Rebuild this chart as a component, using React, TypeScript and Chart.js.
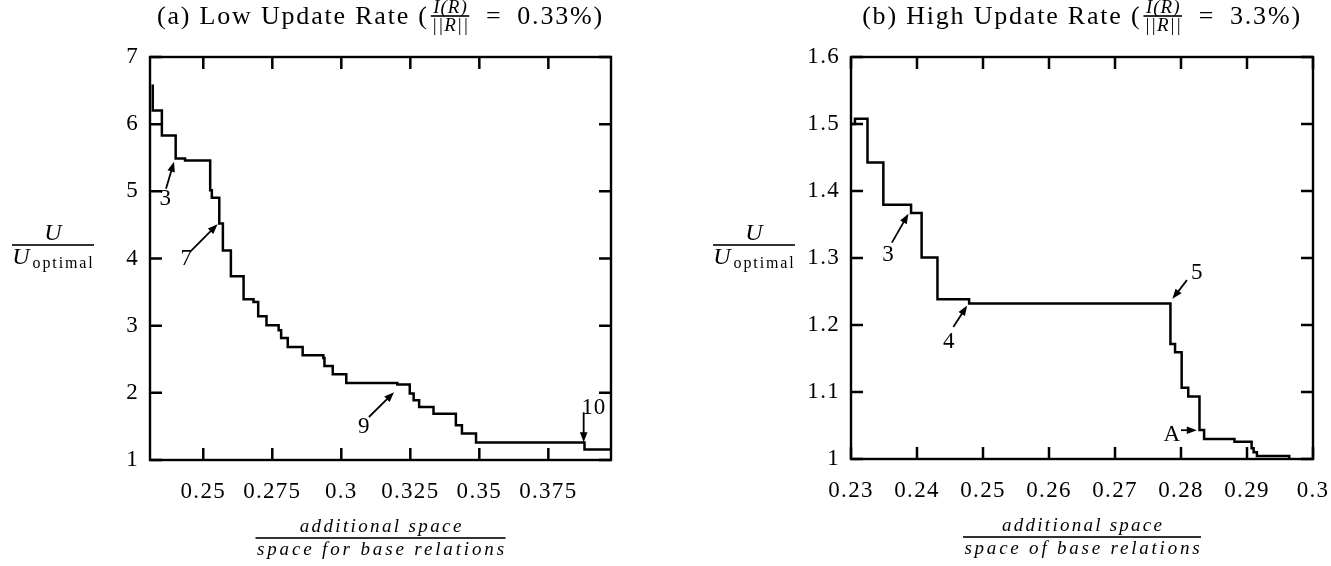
import React, { useEffect, useRef } from "react";
import { Chart, registerables } from "chart.js";
Chart.register(...registerables);

// ---------- (a) Low update rate ----------
const lowX = [0.2317, 0.2317, 0.235, 0.24, 0.2434, 0.2525, 0.2531, 0.2558, 0.2571, 0.26, 0.2646, 0.2682, 0.2699, 0.2729, 0.2773, 0.2782, 0.2806, 0.286, 0.2935, 0.2939, 0.2969, 0.3018, 0.3203, 0.3248, 0.3262, 0.3282, 0.3334, 0.3415, 0.3437, 0.3488, 0.3881, 0.3976];
const lowY = [6.59, 6.205, 5.833, 5.487, 5.46, 5.015, 4.906, 4.52, 4.12, 3.735, 3.393, 3.353, 3.14, 3.006, 2.93, 2.817, 2.683, 2.56, 2.52, 2.4, 2.277, 2.148, 2.123, 1.99, 1.89, 1.79, 1.69, 1.518, 1.394, 1.26, 1.156, 1.156];
const lowXTicks = [0.25, 0.275, 0.3, 0.325, 0.35, 0.375];
const lowXTickLabels = ["0.25", "0.275", "0.3", "0.325", "0.35", "0.375"];
const lowYTicks = [1, 2, 3, 4, 5, 6, 7];
const lowYTickLabels = ["1", "2", "3", "4", "5", "6", "7"];
const lowNoteLabels = ["3", "7", "9", "10"];
const lowNoteLabelX = [0.2362, 0.2438, 0.3081, 0.3913];
const lowNoteLabelY = [4.91, 4.02, 1.52, 1.81];
const lowArrowFrom = [[0.2365, 5.04], [0.2452, 4.1], [0.31, 1.64], [0.3878, 1.71]];
const lowArrowTo = [[0.2394, 5.44], [0.2552, 4.51], [0.3191, 2.01], [0.3878, 1.265]];

// ---------- (b) High update rate ----------
const highX = [0.23, 0.2306, 0.2325, 0.2349, 0.2391, 0.2407, 0.2431, 0.2479, 0.2784, 0.2791, 0.2801, 0.2811, 0.2828, 0.2835, 0.2881, 0.2907, 0.291, 0.2915, 0.2964];
const highY = [1.5, 1.508, 1.4427, 1.3794, 1.367, 1.3007, 1.2386, 1.232, 1.1718, 1.1594, 1.1065, 1.0931, 1.0433, 1.0299, 1.0259, 1.016, 1.01, 1.0045, 1.0];
const highXTicks = [0.23, 0.24, 0.25, 0.26, 0.27, 0.28, 0.29, 0.3];
const highXTickLabels = ["0.23", "0.24", "0.25", "0.26", "0.27", "0.28", "0.29", "0.3"];
const highYTicks = [1, 1.1, 1.2, 1.3, 1.4, 1.5, 1.6];
const highYTickLabels = ["1", "1.1", "1.2", "1.3", "1.4", "1.5", "1.6"];
const highNoteLabels = ["3", "4", "5", "A"];
const highNoteLabelX = [0.2356, 0.2448, 0.2824, 0.2786];
const highNoteLabelY = [1.307, 1.178, 1.281, 1.039];
const highArrowFrom = [[0.2362, 1.323], [0.2455, 1.197], [0.2809, 1.267], [0.28, 1.043]];
const highArrowTo = [[0.2387, 1.366], [0.2476, 1.229], [0.2787, 1.239], [0.2824, 1.043]];

const FONT = '"Liberation Serif", "Times New Roman", serif';
const f = (size: number, italic = false) => `${italic ? "italic " : ""}${size}px ${FONT}`;

function measure(ctx: CanvasRenderingContext2D, t: string, font: string) {
  ctx.font = font;
  (ctx as any).letterSpacing = "0px";
  return ctx.measureText(t).width;
}

function put(ctx: CanvasRenderingContext2D, t: string, x: number, y: number, font: string, align: CanvasTextAlign = "left", ls = 0) {
  ctx.font = font;
  (ctx as any).letterSpacing = ls + "px";
  ctx.textAlign = align;
  ctx.textBaseline = "alphabetic";
  const dx = align === "center" ? ls / 2 : 0;
  ctx.fillText(t, x + dx, y);
  (ctx as any).letterSpacing = "0px";
}

function putFit(ctx: CanvasRenderingContext2D, t: string, cx: number, y: number, font: string, target: number) {
  const w = measure(ctx, t, font);
  const ls = (target - w) / t.length;
  put(ctx, t, cx, y, font, "center", ls);
}

function arrow(ctx: CanvasRenderingContext2D, x1: number, y1: number, x2: number, y2: number) {
  const a = Math.atan2(y2 - y1, x2 - x1);
  const hl = 10, hw = 3.8;
  const c = Math.cos(a), s = Math.sin(a);
  ctx.lineWidth = 1.8;
  ctx.beginPath();
  ctx.moveTo(x1, y1);
  ctx.lineTo(x2 - hl * 0.7 * c, y2 - hl * 0.7 * s);
  ctx.stroke();
  ctx.beginPath();
  ctx.moveTo(x2, y2);
  ctx.lineTo(x2 - hl * c + hw * s, y2 - hl * s - hw * c);
  ctx.lineTo(x2 - hl * c - hw * s, y2 - hl * s + hw * c);
  ctx.closePath();
  ctx.fill();
}

type Spec = {
  xs: number[]; ys: number[];
  xMin: number; xMax: number; yMin: number; yMax: number;
  xTicks: number[]; xLabels: string[]; yTicks: number[]; yLabels: string[];
  noteLabels: string[]; noteX: number[]; noteY: number[]; from: number[][]; to: number[][];
  titlePre: string; titlePost: string; xNum: string; xDen: string;
  numW: number; denW: number;
  width: number; pad: { left: number; right: number; top: number; bottom: number };
};

const LOW: Spec = {
  xs: lowX, ys: lowY, xMin: 0.2307, xMax: 0.3977, yMin: 1, yMax: 7,
  xTicks: lowXTicks, xLabels: lowXTickLabels, yTicks: lowYTicks, yLabels: lowYTickLabels,
  noteLabels: lowNoteLabels, noteX: lowNoteLabelX, noteY: lowNoteLabelY, from: lowArrowFrom, to: lowArrowTo,
  titlePre: "(a) Low Update Rate (", titlePost: "\u2002=\u20020.33%)",
  xNum: "additional space", xDen: "space for base relations", numW: 164, denW: 250,
  width: 665, pad: { left: 90, right: 54, top: 57, bottom: 56 },
};

const HIGH: Spec = {
  xs: highX, ys: highY, xMin: 0.23, xMax: 0.3, yMin: 1, yMax: 1.6,
  xTicks: highXTicks, xLabels: highXTickLabels, yTicks: highYTicks, yLabels: highYTickLabels,
  noteLabels: highNoteLabels, noteX: highNoteLabelX, noteY: highNoteLabelY, from: highArrowFrom, to: highArrowTo,
  titlePre: "(b) High Update Rate (", titlePost: "\u2002=\u20023.3%)",
  xNum: "additional space", xDen: "space of base relations", numW: 162, denW: 238,
  width: 666, pad: { left: 126, right: 18, top: 57, bottom: 57 },
};

function makeDeco(spec: Spec) {
  return {
    id: "deco",
    beforeDraw(chart: any) {
      (chart.ctx as any).letterSpacing = "1.3px";
    },
    afterDraw(chart: any) {
      const ctx: CanvasRenderingContext2D = chart.ctx;
      (ctx as any).letterSpacing = "0px";
      const a = chart.chartArea;
      const xs = chart.scales.x, ys = chart.scales.y;
      ctx.save();
      ctx.strokeStyle = "#000";
      ctx.fillStyle = "#000";
      // frame
      ctx.lineWidth = 2.4;
      ctx.strokeRect(a.left, a.top, a.right - a.left, a.bottom - a.top);
      // inward ticks on all sides
      const tl = 12;
      ctx.beginPath();
      for (const v of spec.xTicks) {
        const px = xs.getPixelForValue(v);
        ctx.moveTo(px, a.bottom); ctx.lineTo(px, a.bottom - tl);
        ctx.moveTo(px, a.top); ctx.lineTo(px, a.top + tl);
      }
      for (const v of spec.yTicks) {
        const py = ys.getPixelForValue(v);
        ctx.moveTo(a.left, py); ctx.lineTo(a.left + tl, py);
        ctx.moveTo(a.right, py); ctx.lineTo(a.right - tl, py);
      }
      ctx.lineWidth = 2.5;
      ctx.stroke();
      // annotations
      for (let i = 0; i < spec.noteLabels.length; i++) {
        const lx = xs.getPixelForValue(spec.noteX[i]);
        const ly = ys.getPixelForValue(spec.noteY[i]);
        put(ctx, spec.noteLabels[i], lx, ly + 8, f(23), "center", 0.8);
        arrow(ctx,
          xs.getPixelForValue(spec.from[i][0]), ys.getPixelForValue(spec.from[i][1]),
          xs.getPixelForValue(spec.to[i][0]), ys.getPixelForValue(spec.to[i][1]));
      }
      // title
      const cx = (a.left + a.right) / 2;
      const base = 24;
      const ls = 1.8;
      const TS = 26;
      const wPre = measure(ctx, spec.titlePre, f(TS)) + ls * spec.titlePre.length;
      const wPost = measure(ctx, spec.titlePost, f(TS)) + ls * spec.titlePost.length;
      const wNum = measure(ctx, "I(R)", f(19, true)) + 4;
      const wDen = measure(ctx, "||R||", f(19, true)) + 4;
      const wF = Math.max(wNum, wDen) + 6;
      let x = cx - (wPre + wF + wPost) / 2;
      put(ctx, spec.titlePre, x, base, f(TS), "left", ls);
      x += wPre;
      const barY = base - 8;
      ctx.fillRect(x + 2, barY - 0.8, wF - 4, 1.6);
      put(ctx, "I(R)", x + wF / 2, barY - 3, f(19, true), "center", 1);
      put(ctx, "||R||", x + wF / 2, barY + 15, f(19, true), "center", 1);
      x += wF;
      put(ctx, spec.titlePost, x, base, f(TS), "left", ls);
      // y-axis title (fraction)
      const ycx = a.left - 97;
      const ybar = a.top + 188;
      put(ctx, "U", ycx, ybar - 5, f(24, true), "center");
      ctx.fillRect(ycx - 41, ybar - 0.8, 82, 1.6);
      const wU = measure(ctx, "U", f(24, true));
      const sub = "optimal";
      const wSub = 62;
      const startX = ycx - (wU + 2 + wSub) / 2;
      put(ctx, "U", startX, ybar + 19, f(24, true), "left");
      putFit(ctx, sub, startX + wU + 2 + wSub / 2, ybar + 23, f(16), wSub);
      // x-axis title (fraction)
      const xbar = a.bottom + 78;
      putFit(ctx, spec.xNum, cx, xbar - 6, f(19, true), spec.numW);
      ctx.fillRect(cx - spec.denW / 2, xbar - 0.8, spec.denW, 1.6);
      putFit(ctx, spec.xDen, cx, xbar + 17, f(19, true), spec.denW);
      ctx.restore();
    },
  };
}

function Panel({ spec, left }: { spec: Spec; left: number }) {
  const ref = useRef<HTMLCanvasElement>(null);
  useEffect(() => {
    const tickFont = { family: FONT, size: 23 };
    const chart = new Chart(ref.current as HTMLCanvasElement, {
      type: "line",
      data: {
        datasets: [
          {
            data: spec.xs.map((x, i) => ({ x, y: spec.ys[i] })),
            stepped: true,
            borderColor: "#000",
            borderWidth: 2.5,
            pointRadius: 0,
            fill: false,
          } as any,
        ],
      },
      options: {
        responsive: false,
        animation: false,
        devicePixelRatio: 1,
        layout: { padding: spec.pad },
        plugins: { legend: { display: false }, tooltip: { enabled: false }, title: { display: false } },
        scales: {
          x: {
            type: "linear",
            min: spec.xMin,
            max: spec.xMax,
            afterBuildTicks: (s: any) => { s.ticks = spec.xTicks.map((v) => ({ value: v })); },
            afterFit: (s: any) => { s.height = 50; s.paddingLeft = 0; s.paddingRight = 0; },
            grid: { display: false, drawTicks: false },
            border: { display: false },
            ticks: {
              autoSkip: false, maxRotation: 0, minRotation: 0, padding: 18,
              font: tickFont, color: "#000",
              callback: (_v: any, i: number) => spec.xLabels[i],
            },
          },
          y: {
            type: "linear",
            min: spec.yMin,
            max: spec.yMax,
            afterBuildTicks: (s: any) => { s.ticks = spec.yTicks.map((v) => ({ value: v })); },
            afterFit: (s: any) => { s.width = 60; s.paddingTop = 0; s.paddingBottom = 0; },
            grid: { display: false, drawTicks: false },
            border: { display: false },
            ticks: {
              autoSkip: false, padding: 11,
              font: tickFont, color: "#000",
              callback: (_v: any, i: number) => spec.yLabels[i],
            },
          },
        },
      } as any,
      plugins: [makeDeco(spec)],
    });
    return () => chart.destroy();
  }, []);
  return (
    <canvas
      ref={ref}
      width={spec.width}
      height={566}
      style={{ position: "absolute", left, top: 0, width: spec.width, height: 566 }}
    />
  );
}

export default function App() {
  return (
    <div style={{ position: "absolute", left: 0, top: 0, width: 1331, height: 566, background: "#fff" }}>
      <Panel spec={LOW} left={0} />
      <Panel spec={HIGH} left={665} />
    </div>
  );
}
